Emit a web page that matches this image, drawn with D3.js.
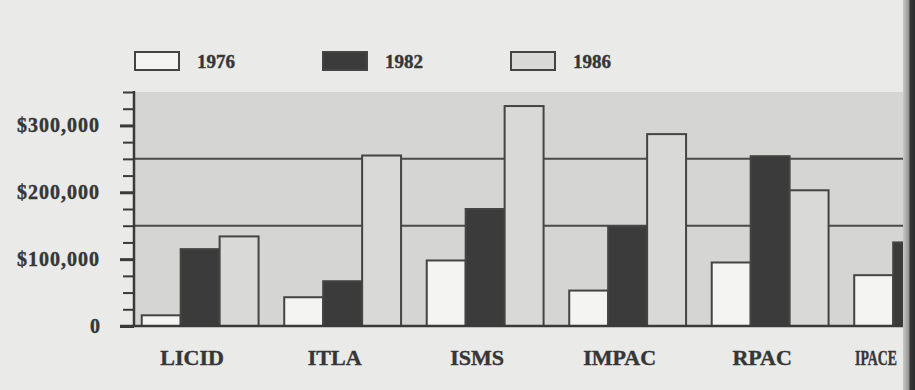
<!DOCTYPE html>
<html>
<head>
<meta charset="utf-8">
<script src="https://cdn.jsdelivr.net/npm/d3@7"></script>
<style>
  body { margin: 0; background: #eaeae8; }
  svg { display: block; }
  text { font-family: "Liberation Serif", "Times New Roman", serif; font-weight: bold; fill: #363636; stroke: #363636; stroke-width: 0.4px; }
</style>
</head>
<body>
<div class="container"></div>
<script>
const categories = ["LICID", "ITLA", "ISMS", "IMPAC", "RPAC", "IPACE"];
const years = ["1976", "1982", "1986"];
const values1976 = [16000, 43000, 98000, 53000, 95000, 76000];
const values1982 = [115000, 67000, 175000, 149000, 254000, 125000];
const values1986 = [134000, 255000, 329000, 287000, 203000, 136000];
const yTickLabels = [0, 100000, 200000, 300000];
const refLines = [150000, 250000];

const W = 915, H = 390;
const fills = { "1976": "#f4f4f2", "1982": "#3b3b3b", "1986": "#d9d9d7" };

const data = categories.map((c, i) => ({
  cat: c,
  vals: [
    { year: "1976", v: values1976[i] },
    { year: "1982", v: values1982[i] },
    { year: "1986", v: values1986[i] },
  ],
}));

const axisX = 134;
const y = d3.scaleLinear().domain([0, 350000]).range([326, 92]);

const x0 = d3.scaleBand()
  .domain(categories)
  .range([128.9, 983.9])
  .paddingInner(0.18)
  .paddingOuter(0.09);
const x1 = d3.scaleBand().domain(years).range([0, x0.bandwidth()]);

const svg = d3.select(".container")
  .append("svg")
  .attr("width", W)
  .attr("height", H);

// plot background
svg.append("rect")
  .attr("x", axisX)
  .attr("y", y(350000))
  .attr("width", W - axisX)
  .attr("height", y(0) - y(350000))
  .attr("fill", "#d5d5d3");

// reference lines
svg.append("g")
  .selectAll("line")
  .data(refLines)
  .enter()
  .append("line")
  .attr("x1", axisX)
  .attr("x2", W)
  .attr("y1", d => y(d))
  .attr("y2", d => y(d))
  .attr("stroke", "#4a4a4a")
  .attr("stroke-width", 2);

// bars
svg.append("g")
  .selectAll("g")
  .data(data)
  .enter()
  .append("g")
  .attr("transform", d => `translate(${x0(d.cat)},0)`)
  .selectAll("rect")
  .data(d => d.vals)
  .enter()
  .append("rect")
  .attr("x", d => x1(d.year))
  .attr("y", d => y(d.v))
  .attr("width", x1.bandwidth())
  .attr("height", d => y(0) - y(d.v))
  .attr("fill", d => fills[d.year])
  .attr("stroke", "#444")
  .attr("stroke-width", 2);

// y axis
const yAxis = d3.axisLeft(y)
  .tickValues(d3.range(0, 350001, 25000))
  .tickSize(11)
  .tickFormat("");
const ya = svg.append("g")
  .attr("transform", `translate(${axisX},0)`)
  .call(yAxis);
ya.select(".domain").remove();
ya.selectAll(".tick line")
  .attr("stroke", "#3a3a3a")
  .attr("stroke-width", d => (d % 100000 === 0 ? 3 : 2))
  .attr("x2", d => (d % 100000 === 0 ? -14 : -11));
svg.append("line")
  .attr("x1", axisX).attr("x2", axisX)
  .attr("y1", y(350000) - 1).attr("y2", y(0) + 1)
  .attr("stroke", "#3a3a3a").attr("stroke-width", 2.5);

svg.append("g")
  .selectAll("text")
  .data(yTickLabels)
  .enter()
  .append("text")
  .attr("x", 100)
  .attr("y", d => y(d) + 7)
  .attr("text-anchor", "end")
  .style("font-size", "20px")
  .style("letter-spacing", d => (d === 0 ? "0px" : "1px"))
  .text(d => (d === 0 ? "0" : "$" + d3.format(",")(d)));

// baseline
svg.append("line")
  .attr("x1", 120).attr("x2", W)
  .attr("y1", y(0)).attr("y2", y(0))
  .attr("stroke", "#3a3a3a").attr("stroke-width", 2.5);

// category labels (the last one sits squeezed against the binding)
const labelRight = 897;
svg.append("g")
  .selectAll("text")
  .data(categories)
  .enter()
  .append("text")
  .style("font-size", "22px")
  .text(d => d)
  .each(function (d) {
    const t = d3.select(this);
    const cx = x0(d) + x0.bandwidth() / 2 - 8;
    const w = this.getComputedTextLength();
    if (cx + w / 2 > labelRight) {
      const s = 42 / w;
      t.attr("text-anchor", "end")
        .attr("transform", `translate(${labelRight},365) scale(${s},1)`);
    } else {
      t.attr("x", cx).attr("y", 365).attr("text-anchor", "middle");
    }
  });

// legend
const legend = svg.append("g")
  .selectAll("g")
  .data(years)
  .enter()
  .append("g")
  .attr("transform", (d, i) => `translate(${135 + i * 188},52)`);
legend.append("rect")
  .attr("width", 44)
  .attr("height", 18)
  .attr("fill", d => fills[d])
  .attr("stroke", "#444")
  .attr("stroke-width", 2);
legend.append("text")
  .attr("x", 62)
  .attr("y", 16)
  .style("font-size", "19px")
  .text(d => d);

// book binding shadow at right edge
const grad = svg.append("defs").append("linearGradient")
  .attr("id", "bind").attr("x1", "0").attr("x2", "1");
grad.append("stop").attr("offset", "0").attr("stop-color", "#c8c8c6");
grad.append("stop").attr("offset", "0.45").attr("stop-color", "#9a9a98");
grad.append("stop").attr("offset", "0.6").attr("stop-color", "#3a3a3a");
grad.append("stop").attr("offset", "1").attr("stop-color", "#2a2a2a");
svg.append("rect")
  .attr("x", 903).attr("y", 0)
  .attr("width", 12).attr("height", H)
  .attr("fill", "url(#bind)");
</script>
</body>
</html>
